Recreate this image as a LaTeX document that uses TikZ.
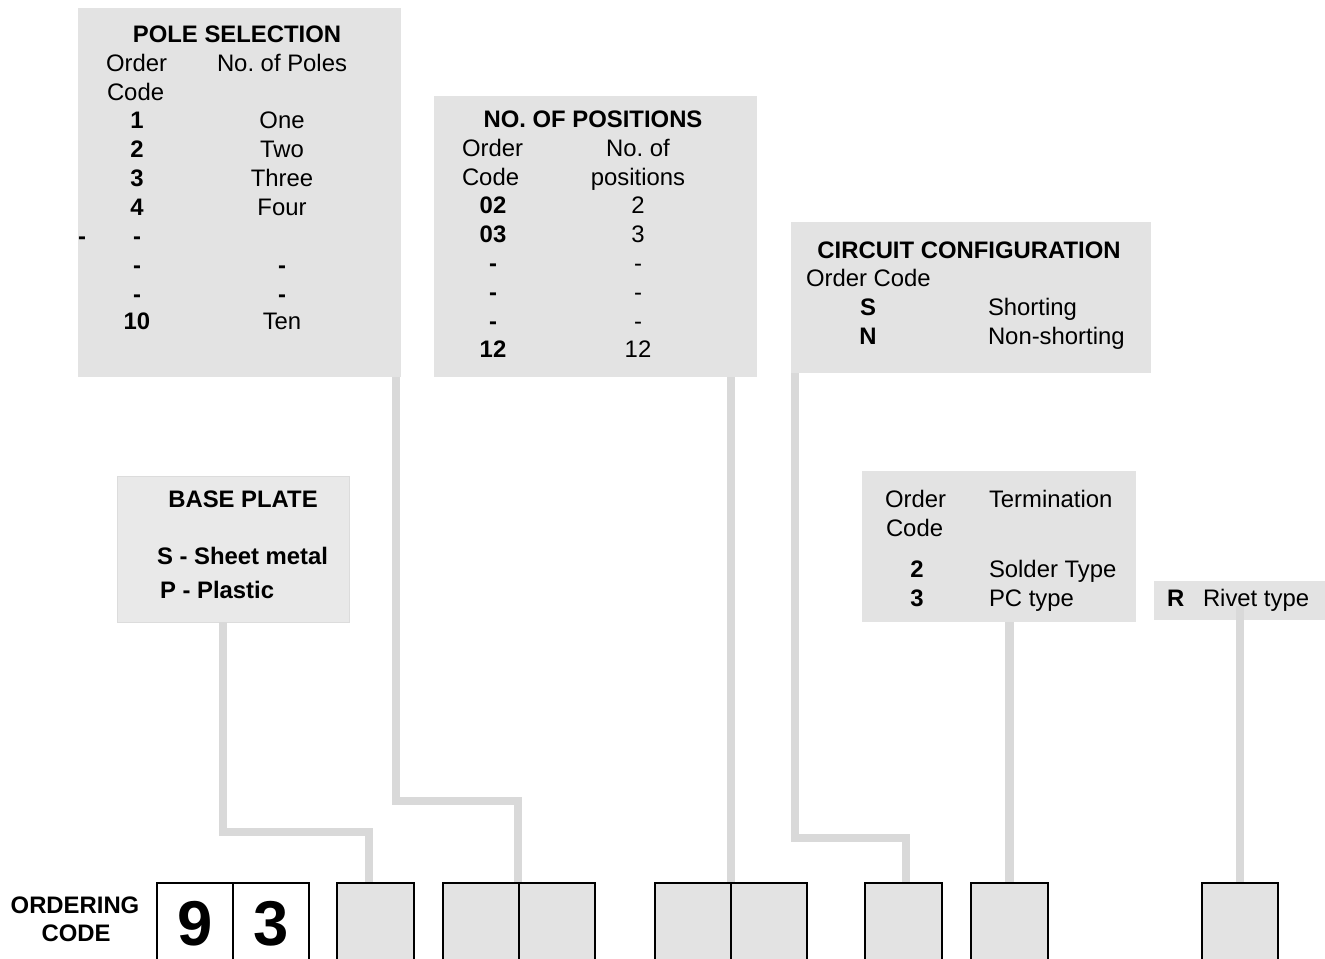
\documentclass[tikz,border=0pt]{standalone}
\usepackage{fontspec}
\setmainfont{Liberation Sans}
\frenchspacing
\definecolor{boxgray}{HTML}{E3E3E3}
\definecolor{basegray}{HTML}{E9E9E9}
\definecolor{baseedge}{HTML}{DCDCDC}
\definecolor{conngray}{HTML}{D9D9D9}
\newcommand\rf{\fontsize{17.9}{21}\selectfont}
\newcommand\bigdigit{\fontsize{47.5}{50}\selectfont\bfseries}
\begin{document}
\begin{tikzpicture}[x=0.75pt,y=-0.75pt,
  dims/.style 2 args={minimum width=#1*0.75pt, minimum height=#2*0.75pt},
  info/.style={fill=boxgray, draw=none, inner sep=0pt, outer sep=0pt, anchor=north west},
  baseinfo/.style={fill=basegray, draw=baseedge, line width=0.75pt, inner sep=0pt, outer sep=0pt, anchor=north west},
  cell/.style={fill=boxgray, draw=black, line width=1.8pt, inner sep=0pt, outer sep=0pt, anchor=north west, minimum height=60pt},
  whitecell/.style={cell, fill=white},
  conn/.style={draw=conngray, line width=6.5pt, line cap=butt, line join=miter},
  lbl/.style={inner sep=0pt, outer sep=0pt, font=\rf, anchor=base},
  lblw/.style={lbl, anchor=base west},
  blbl/.style={lbl, font=\rf\bfseries},
  blblw/.style={blbl, anchor=base west},
  digit/.style={inner sep=0pt, outer sep=0pt, font=\bigdigit, anchor=base}
]
\clip (0,0) rectangle (1325,958);
\fill[white] (0,0) rectangle (1325,958);

% information boxes
\node[info, dims={323}{369}] (pole) at (78,8) {};
\node[info, dims={323}{281}] (pos) at (434,96) {};
\node[info, dims={360}{151}] (circ) at (791,222) {};
\node[baseinfo, dims={232}{146}] (base) at (117,476) {};
\node[info, dims={274}{151}] (term) at (862,471) {};
\node[info, dims={171}{39}] (riv) at (1154,581) {};

% bottom cells
\node[whitecell, minimum width=57pt] (c9) at (157,883) {};
\node[whitecell, minimum width=57pt] (c3) at (233,883) {};
\node[cell, minimum width=57.75pt] (b1) at (337,883) {};
\node[cell, minimum width=57pt] (b2a) at (443,883) {};
\node[cell, minimum width=57pt] (b2b) at (519,883) {};
\node[cell, minimum width=57pt] (b3a) at (655,883) {};
\node[cell, minimum width=57pt] (b3b) at (731,883) {};
\node[cell, minimum width=57.75pt] (b4) at (865,883) {};
\node[cell, minimum width=57.75pt] (b5) at (971,883) {};
\node[cell, minimum width=57pt] (b6) at (1202,883) {};

% connectors
\coordinate (pb) at (518,801);
\coordinate (bb) at (369,832);
\coordinate (cb) at (906,838);
\draw[conn] ([xshift=-7.5pt]base.south) |- (bb) -- (bb |- b1.north);
\draw[conn] ([xshift=-3.75pt]pole.south east) |- (pb) -- (pb |- b2a.north);
\draw[conn] (b3a.north east |- pos.south) -- (b3a.north east);
\draw[conn] ([xshift=3pt]circ.south west) |- (cb) -- (cb |- b4.north);
\draw[conn] (b5.north |- term.south) -- (b5.north);
\draw[conn] ([yshift=-4pt]b6.north |- riv.center) -- (b6.north);

% redraw cell borders over connector ends
\foreach \n in {c9,c3,b1,b2a,b2b,b3a,b3b,b4,b5,b6}
  \draw[black, line width=1.8pt] (\n.south west) -- (\n.north west) -- (\n.north east) -- (\n.south east);

% POLE SELECTION
\node[blbl] (psT) at (237,42.5) {POLE SELECTION};
\node[lblw] (psO) at (106,71.5) {Order};
\node[lblw] (psC) at (107,100.5) {Code};
\node[lblw] (psH) at (217,71.5) {No. of Poles};
\node[blbl] (psc1) at (137,128.5) {1};
\node[blbl] (psc2) at (137,157.5) {2};
\node[blbl] (psc3) at (137,186.5) {3};
\node[blbl] (psc4) at (137,215.5) {4};
\node[blbl] (psc5) at (137,244.5) {-};
\node[blbl] (psc6) at (137,273.5) {-};
\node[blbl] (psc7) at (137,302.5) {-};
\node[blbl] (psc8) at (137,329.5) {10};
\node[blbl] (psx) at (82,244.5) {-};
\node[lbl] (psv1) at (282,128.5) {One};
\node[lbl] (psv2) at (282,157.5) {Two};
\node[lbl] (psv3) at (282,186.5) {Three};
\node[lbl] (psv4) at (282,215.5) {Four};
\node[blbl] (psv6) at (282,273.5) {-};
\node[blbl] (psv7) at (282,302.5) {-};
\node[lbl] (psv8) at (282,329.5) {Ten};

% NO. OF POSITIONS
\node[blbl] (npT) at (593,127.5) {NO. OF POSITIONS};
\node[lblw] (npO) at (462,156.5) {Order};
\node[lblw] (npC) at (462,185.5) {Code};
\node[lbl] (npH1) at (638,156.5) {No. of};
\node[lbl] (npH2) at (638,185.5) {positions};
\node[blbl] (npc1) at (493,213.5) {02};
\node[blbl] (npc2) at (493,242.5) {03};
\node[blbl] (npc3) at (493,271.5) {-};
\node[blbl] (npc4) at (493,300.5) {-};
\node[blbl] (npc5) at (493,329.5) {-};
\node[blbl] (npc6) at (493,357.5) {12};
\node[lbl] (npv1) at (638,213.5) {2};
\node[lbl] (npv2) at (638,242.5) {3};
\node[lbl] (npv3) at (638,271.5) {-};
\node[lbl] (npv4) at (638,300.5) {-};
\node[lbl] (npv5) at (638,329.5) {-};
\node[lbl] (npv6) at (638,357.5) {12};

% CIRCUIT CONFIGURATION
\node[blbl] (ccT) at (969,258.5) {CIRCUIT CONFIGURATION};
\node[lblw] (ccO) at (806,286.5) {Order Code};
\node[blbl] (ccS) at (868,315.5) {S};
\node[blbl] (ccN) at (868,344.5) {N};
\node[lblw] (ccSv) at (988,315.5) {Shorting};
\node[lblw] (ccNv) at (988,344.5) {Non-shorting};

% BASE PLATE
\node[blbl] (bpT) at (243,507.5) {BASE PLATE};
\node[blblw] (bpS) at (157,564.5) {S - Sheet metal};
\node[blblw] (bpP) at (160,598.5) {P - Plastic};

% Termination
\node[lblw] (tmO) at (885,507.5) {Order};
\node[lblw] (tmC) at (886,536.5) {Code};
\node[lblw] (tmH) at (989,507.5) {Termination};
\node[blbl] (tm2) at (917,577.5) {2};
\node[blbl] (tm3) at (917,606.5) {3};
\node[lblw] (tm2v) at (989,577.5) {Solder Type};
\node[lblw] (tm3v) at (989,606.5) {PC type};

% Rivet
\node[blblw] (rvR) at (1167,606.5) {R};
\node[lblw] (rvT) at (1203,606.5) {Rivet type};

% Ordering code
\node[blbl] (oc1) at (75,913.5) {ORDERING};
\node[blbl] (oc2) at (76,941.5) {CODE};
\node[digit] (d9) at (195,945.5) {9};
\node[digit] (d3) at (271,945.5) {3};
\end{tikzpicture}
\end{document}
